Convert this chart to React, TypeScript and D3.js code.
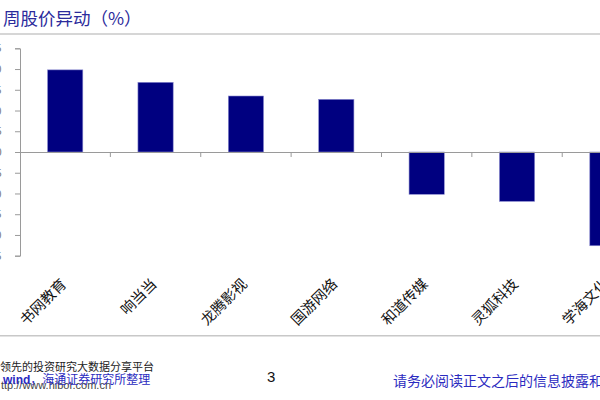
import { useEffect, useRef } from 'react';
import * as d3 from 'd3';

// weekly stock price change (%)
const names = ['书网教育', '响当当', '龙腾影视', '国游网络', '和道传媒', '灵狐科技', '学海文化'];
const changes = [19.8, 16.8, 13.5, 12.7, -10.2, -11.9, -22.6];
const yTicks = [-25, -20, -15, -10, -5, 0, 5, 10, 15, 20, 25];

const W = 600;
const H = 400;

export default function App() {
  const svgRef = useRef<SVGSVGElement>(null);

  useEffect(() => {
    const svg = d3.select(svgRef.current);
    svg.selectAll('*').remove();

    const AXIS_X = 20;
    const x = d3.scaleBand<string>().domain(names).range([AXIS_X, 652.6]).padding(0);
    const y = d3.scaleLinear().domain([-25, 25]).range([255.7, 48.3]);
    const barW = x.bandwidth() * 0.39;

    // title + rule
    svg.append('text')
      .attr('x', 3).attr('y', 25)
      .attr('font-family', '"Noto Sans CJK SC", sans-serif').attr('font-size', 17.5)
      .attr('fill', '#2b2b9c')
      .text('周股价异动（%）');
    svg.append('line')
      .attr('x1', 0).attr('x2', W).attr('y1', 34).attr('y2', 34)
      .attr('stroke', '#c8c8c8').attr('stroke-width', 1.5);

    // y axis (labels sit mostly outside the cropped slide, as in the source)
    svg.append('g')
      .attr('transform', `translate(${AXIS_X},0)`)
      .call(d3.axisLeft(y).tickValues(yTicks).tickSize(5).tickPadding(3).tickFormat(d3.format('d')))
      .call(ax => ax.select('.domain').attr('stroke', '#9a9a9a'))
      .call(ax => ax.selectAll('.tick line').attr('stroke', '#9a9a9a'))
      .call(ax => ax.selectAll('.tick text').attr('fill', '#777').attr('font-size', 11)
        .attr('font-family', 'Arial, sans-serif').attr('x', -(AXIS_X - 1.5)));

    // bars
    svg.append('g').selectAll('rect')
      .data(changes)
      .join('rect')
      .attr('x', (_, i) => x(names[i])! + (x.bandwidth() - barW) / 2)
      .attr('y', d => y(Math.max(0, d)))
      .attr('width', barW)
      .attr('height', d => Math.abs(y(d) - y(0)))
      .attr('fill', '#000080')
      .attr('stroke', '#8c8cd0').attr('stroke-width', 0.6);

    // x axis at zero
    svg.append('g')
      .attr('transform', `translate(0,${y(0)})`)
      .call(d3.axisBottom(x).tickSize(5).tickFormat(() => ''))
      .call(ax => ax.select('.domain').attr('stroke', '#9a9a9a'))
      .call(ax => ax.selectAll('.tick line')
        .attr('transform', `translate(${x.bandwidth() / 2},0)`).attr('stroke', '#9a9a9a'));

    // rotated category labels
    svg.append('g').selectAll('text')
      .data(names)
      .join('text')
      .attr('transform', d => `translate(${x(d)! + x.bandwidth() / 2 + 2},285) rotate(-45)`)
      .attr('text-anchor', 'end')
      .attr('font-family', '"Noto Sans CJK SC", sans-serif').attr('font-size', 14.5)
      .attr('fill', '#111')
      .text(d => d);

    // footer
    svg.append('line')
      .attr('x1', 0).attr('x2', W).attr('y1', 335.7).attr('y2', 335.7)
      .attr('stroke', '#c8c8c8').attr('stroke-width', 1.5);
    svg.append('text')
      .attr('x', 0).attr('y', 371)
      .attr('font-family', '"Noto Sans CJK SC", sans-serif').attr('font-size', 11).attr('fill', '#222')
      .text('领先的投资研究大数据分享平台');
    svg.append('text')
      .attr('x', 1).attr('y', 389)
      .attr('font-family', 'Arial, "Liberation Sans", sans-serif').attr('font-size', 11).attr('fill', '#444')
      .text('ttp://www.hibor.com.cn');
    const src = svg.append('text')
      .attr('x', 3).attr('y', 384)
      .attr('font-size', 12).attr('fill', '#2b2bc0');
    src.append('tspan').attr('font-family', 'Arial, sans-serif').attr('font-weight', 'bold').text('wind');
    src.append('tspan').attr('font-family', '"Noto Sans CJK SC", sans-serif').text('，海通证券研究所整理');
    svg.append('text')
      .attr('x', 267).attr('y', 382)
      .attr('font-family', 'Arial, sans-serif').attr('font-size', 15).attr('fill', '#111')
      .text('3');
    svg.append('text')
      .attr('x', 393).attr('y', 386)
      .attr('font-family', '"Noto Sans CJK SC", sans-serif').attr('font-size', 14).attr('fill', '#2b2bc0')
      .text('请务必阅读正文之后的信息披露和法律声明');
  }, []);

  return (
    <svg ref={svgRef} width={W} height={H}
      style={{ position: 'absolute', left: 0, top: 0, background: '#fff', overflow: 'hidden' }} />
  );
}
